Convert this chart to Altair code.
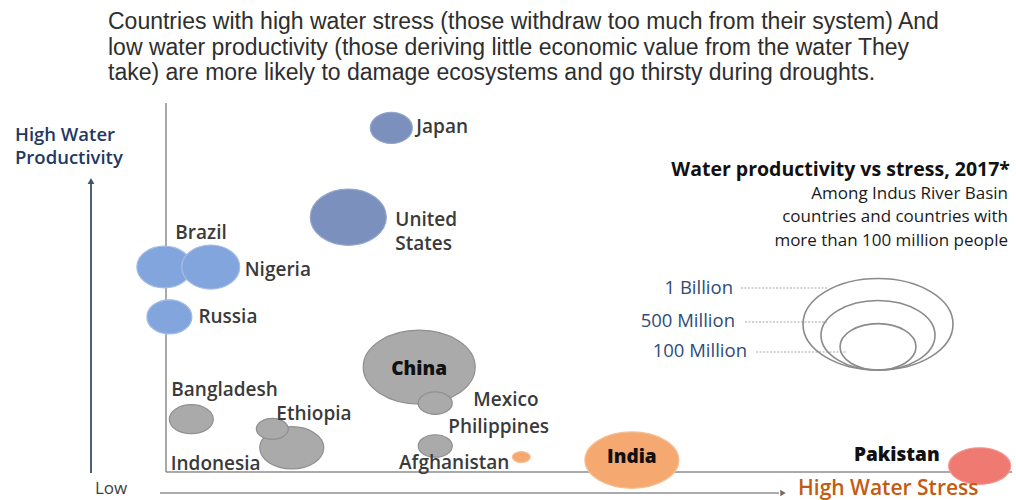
import altair as alt
import pandas as pd

# ---------------- data ----------------
title_lines = [
    "Countries with high water stress (those withdraw too much from their system) And",
    "low water productivity (those deriving little economic value from the water They",
    "take) are more likely to damage ecosystems and go thirsty during droughts.",
]
countries = ["Japan", "United States", "Brazil", "Nigeria", "Russia", "China", "Mexico",
             "Bangladesh", "Indonesia", "Ethiopia", "Philippines", "Afghanistan", "India", "Pakistan"]
# water stress (0 = low, 100 = high) and water productivity (0 = low, 100 = high), relative position
water_stress = [26.7, 21.6, -0.2, 5.3, 0.4, 30.0, 31.9, 3.0, 14.9, 12.6, 31.9, 42.1, 55.2, 96.4]
water_productivity = [92.5, 68.5, 55.1, 55.1, 41.7, 28.2, 18.5, 14.2, 6.5, 11.6, 7.0, 4.0, 3.2, 1.6]
# relative bubble area as drawn
bubble_area = [441, 1444, 756, 841, 506, 3136, 289, 484, 1024, 256, 289, 81, 2209, 961]
country_group = ["high productivity", "high productivity", "low stress", "low stress", "low stress",
                 "low productivity", "low productivity", "low productivity", "low productivity",
                 "low productivity", "low productivity", "Indus basin", "Indus basin", "Pakistan"]
bold_labels = ["China", "India", "Pakistan"]

legend_title = "Water productivity vs stress, 2017*"
legend_subtitle = ["Among Indus River Basin", "countries and countries with", "more than 100 million people"]
legend_labels = ["1 Billion", "500 Million", "100 Million"]
legend_area = [5625, 3249, 1444]

y_axis_title = ["High Water", "Productivity"]
x_low_label = "Low"
x_high_label = "High Water Stress"

# ---------------- layout / styles ----------------
groups = ["high productivity", "low stress", "low productivity", "Indus basin", "Pakistan"]
fills = ["#7B90BC", "#82A5DD", "#ABAAAA", "#F5A870", "#EE7A72"]
strokes = ["#93A6CB", "#A4BDE6", "#8F8F8F", "#F7BD93", "#F29791"]


def ellipse(ry):
    return f"M -1 0 A 1 {ry} 0 1 0 1 0 A 1 {ry} 0 1 0 -1 0 Z"


shapes = [ellipse(0.74), ellipse(0.76), ellipse(0.66), ellipse(0.6), ellipse(0.59)]

VIEW_L, VIEW_T, VIEW_W, VIEW_H = 166, 100, 844, 372
PX_X = VIEW_W / 100.0
PX_Y = VIEW_H / 100.0


def ux(px):
    return (px - VIEW_L) / PX_X


def uy(py):
    return (VIEW_T + VIEW_H - py) / PX_Y


XS = alt.Scale(domain=[0, 100], nice=False, zero=False)
YS = alt.Scale(domain=[0, 100], nice=False, zero=False)
SS = alt.Scale(domain=[0, 6000], range=[0, 24000], zero=True)


def X(f="x"):
    return alt.X(f"{f}:Q", scale=XS, axis=None)


def Y(f="y"):
    return alt.Y(f"{f}:Q", scale=YS, axis=None)


LABEL_FONT = "Open Sans"

# label offsets from bubble centre (pixels) and alignment
label_layout = {
    "Japan": (25, -1, "left"),
    "United States": (47, 3, "left"),
    "Brazil": (11, -34, "left"),
    "Nigeria": (34, 3, "left"),
    "Russia": (29, 0, "left"),
    "China": (0, 2, "center"),
    "Mexico": (38, -3, "left"),
    "Bangladesh": (-20, -29, "left"),
    "Indonesia": (-121, 16, "left"),
    "Ethiopia": (4, -15, "left"),
    "Philippines": (13, -19, "left"),
    "Afghanistan": (-12, 6, "right"),
    "India": (0, -3, "center"),
    "Pakistan": (-40, -11, "right"),
}

bubbles = pd.DataFrame({
    "country": countries,
    "x": water_stress,
    "y": water_productivity,
    "area": bubble_area,
    "group": country_group,
})

lab = bubbles.copy()
lab["dx"] = [label_layout[c][0] for c in countries]
lab["dy"] = [label_layout[c][1] for c in countries]
lab["align"] = [label_layout[c][2] for c in countries]
lab["bold"] = [c in bold_labels for c in countries]
lab["lx"] = lab["x"] + lab["dx"] / PX_X
lab["ly"] = lab["y"] - lab["dy"] / PX_Y
lab["label"] = [c.replace(" ", "\n") if c == "United States" else c for c in countries]

layers = []

# axes of the quadrant
axes_rules = pd.DataFrame({
    "x": [ux(166), ux(166)], "x2": [ux(166), ux(1012)],
    "y": [uy(103), uy(472)], "y2": [uy(472), uy(472)],
})
layers.append(alt.Chart(axes_rules).mark_rule(color="#8C8C8C", strokeWidth=1.5).encode(
    x=X(), x2="x2:Q", y=Y(), y2="y2:Q"))

# arrows outside the quadrant
v_arrow = pd.DataFrame({"x": [ux(91)], "y": [uy(473)], "y2": [uy(184)]})
layers.append(alt.Chart(v_arrow).mark_rule(strokeWidth=2, color="#4F5F78").encode(
    x=X(), y=Y(), y2="y2:Q"))
h_arrow = pd.DataFrame({"x": [ux(160)], "x2": [ux(779)], "y": [uy(493)]})
layers.append(alt.Chart(h_arrow).mark_rule(strokeWidth=2, color="#ABABAB").encode(
    x=X(), x2="x2:Q", y=Y()))
layers.append(alt.Chart(pd.DataFrame({"x": [ux(91)], "y": [uy(181)]})).mark_point(
    shape="triangle-up", filled=True, size=45, color="#44546A", opacity=1).encode(x=X(), y=Y()))
layers.append(alt.Chart(pd.DataFrame({"x": [ux(783)], "y": [uy(493)]})).mark_point(
    shape="triangle-right", filled=True, size=40, color="#7F6A5A", opacity=1).encode(x=X(), y=Y()))

# bubbles
layers.append(alt.Chart(bubbles).mark_point(filled=True, opacity=1, strokeWidth=1.2).encode(
    x=X(), y=Y(),
    size=alt.Size("area:Q", scale=SS, legend=None),
    color=alt.Color("group:N", scale=alt.Scale(domain=groups, range=fills), legend=None),
    stroke=alt.Stroke("group:N", scale=alt.Scale(domain=groups, range=strokes), legend=None),
    shape=alt.Shape("group:N", scale=alt.Scale(domain=groups, range=shapes), legend=None),
))

# country labels
for align in ["left", "center", "right"]:
    for bold in [False, True]:
        sub = lab[(lab["align"] == align) & (lab["bold"] == bold)]
        if len(sub) == 0:
            continue
        layers.append(alt.Chart(sub).mark_text(
            align=align, baseline="middle", font=LABEL_FONT, fontSize=19,
            fontWeight=800 if bold else 600, color="#111111" if bold else "#3A3A3A",
            lineBreak="\n", lineHeight=24,
        ).encode(x=X("lx"), y=Y("ly"), text="label:N"))

# title
title_df = pd.DataFrame({"t": title_lines, "x": ux(108), "y": [uy(22 + 25.5 * i) for i in range(3)]})
layers.append(alt.Chart(title_df).mark_text(
    align="left", baseline="middle", font="Liberation Sans", fontSize=23, color="#2E2E2E"
).encode(x=X(), y=Y(), text="t:N"))

# y-axis title
yt = pd.DataFrame({"t": y_axis_title, "x": ux(15), "y": [uy(135), uy(158)]})
layers.append(alt.Chart(yt).mark_text(
    align="left", baseline="middle", font=LABEL_FONT, fontSize=18.5, fontWeight=600, color="#1F3864"
).encode(x=X(), y=Y(), text="t:N"))

# x-axis labels
layers.append(alt.Chart(pd.DataFrame({"t": [x_low_label], "x": [ux(95)], "y": [uy(489)]})).mark_text(
    align="left", baseline="middle", font=LABEL_FONT, fontSize=17, color="#404040"
).encode(x=X(), y=Y(), text="t:N"))
layers.append(alt.Chart(pd.DataFrame({"t": [x_high_label], "x": [ux(798)], "y": [uy(489)]})).mark_text(
    align="left", baseline="middle", font=LABEL_FONT, fontSize=21, fontWeight=600, color="#C55A11"
).encode(x=X(), y=Y(), text="t:N"))

# legend title and subtitle
layers.append(alt.Chart(pd.DataFrame({"t": [legend_title], "x": [ux(1010)], "y": [uy(170)]})).mark_text(
    align="right", baseline="middle", font=LABEL_FONT, fontSize=19.5, fontWeight=700, color="#111111"
).encode(x=X(), y=Y(), text="t:N"))
ls = pd.DataFrame({"t": legend_subtitle, "x": ux(1008), "y": [uy(193.5), uy(217), uy(240.5)]})
layers.append(alt.Chart(ls).mark_text(
    align="right", baseline="middle", font=LABEL_FONT, fontSize=17, color="#1A1A1A"
).encode(x=X(), y=Y(), text="t:N"))

# size legend
leg_text = pd.DataFrame({"t": legend_labels, "x": [ux(733), ux(735), ux(747)],
                         "y": [uy(288), uy(321), uy(351)]})
layers.append(alt.Chart(leg_text).mark_text(
    align="right", baseline="middle", font=LABEL_FONT, fontSize=18.5, color="#2F4B7C"
).encode(x=X(), y=Y(), text="t:N"))
leaders = pd.DataFrame({"x": [ux(741), ux(745), ux(756)], "x2": [ux(828), ux(827), ux(846)],
                        "y": [uy(288), uy(322), uy(352)]})
layers.append(alt.Chart(leaders).mark_rule(color="#A8A8A8", strokeWidth=1.2, strokeDash=[2, 1.5]).encode(
    x=X(), x2="x2:Q", y=Y()))
leg_rx = [a ** 0.5 for a in legend_area]
leg = pd.DataFrame({"area": legend_area, "x": ux(878), "y": [uy(370 - 0.61 * r) for r in leg_rx]})
layers.append(alt.Chart(leg).mark_point(
    shape=ellipse(0.61), filled=False, opacity=1, stroke="#8A8A8A", strokeWidth=1.6
).encode(x=X(), y=Y(), size=alt.Size("area:Q", scale=SS, legend=None)))

chart = alt.layer(*layers).properties(
    width=VIEW_W, height=VIEW_H,
    padding={"left": VIEW_L, "top": VIEW_T, "right": 1016 - VIEW_L - VIEW_W, "bottom": 500 - VIEW_T - VIEW_H},
    autosize=alt.AutoSizeParams(type="none"),
    background="white",
).configure_view(stroke=None)

chart.save("out.html", embed_options={"renderer": "svg", "actions": False})
